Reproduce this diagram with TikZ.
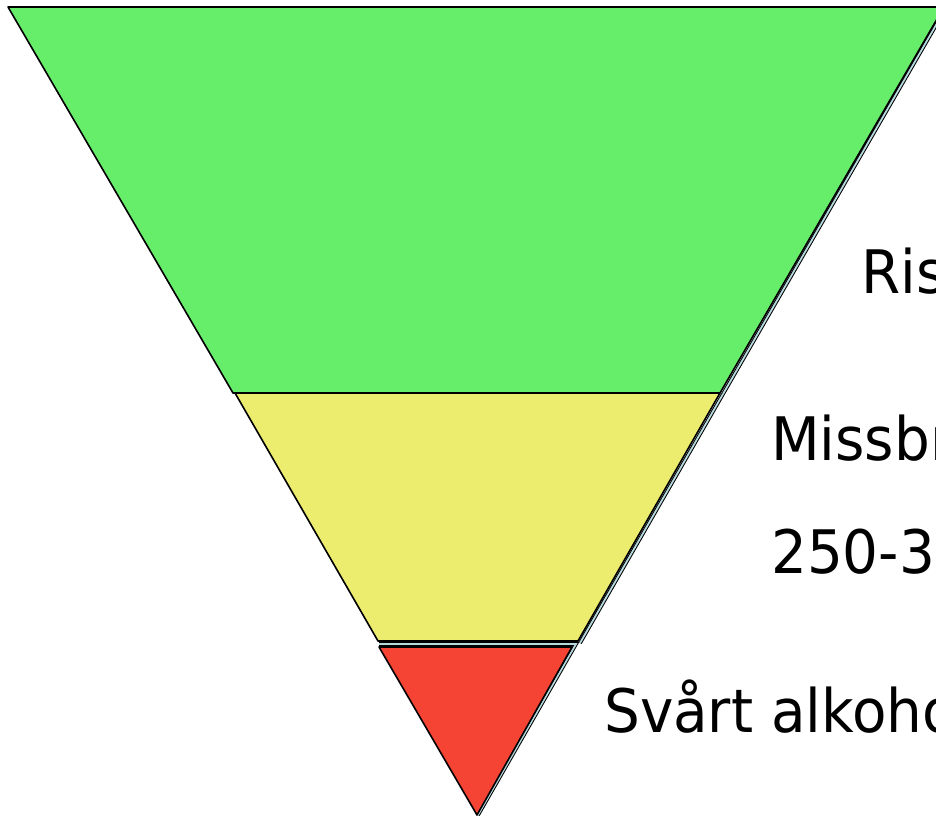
\documentclass[tikz,border=0pt]{standalone}
\usepackage{fontspec}
\setmainfont[FakeStretch=0.94]{DejaVu Sans}
\usepackage{xcolor}
\usetikzlibrary{positioning,calc}

\definecolor{riskgreen}{HTML}{66EE6A}
\definecolor{abuseyellow}{HTML}{ECEC6E}
\definecolor{heavyred}{HTML}{F64434}
\definecolor{rimblue}{HTML}{B4D8DC}

\begin{document}
\begin{tikzpicture}[x=1pt,y=-1pt,
    band/.style={draw=black,line width=1.6pt,line join=round},
    rim/.style={draw=black,line width=1pt,double=rimblue,double distance=1.8pt},
    level/.style={anchor=base west,inner sep=0pt,font=\fontsize{60}{60}\selectfont}]
    \useasboundingbox (0,0) rectangle (936,818);
    \clip (0,0) rectangle (936,818);

    % Pyramid corners
    \coordinate (topL) at (8,7);
    \coordinate (topR) at (944,7);
    \coordinate (midL) at (233,393);
    \coordinate (midR) at (720,393);
    \coordinate (lowL) at (378,641);
    \coordinate (lowR) at (578,641);
    \coordinate (redL) at (379,647);
    \coordinate (redR) at (572,647);
    \coordinate (apex) at (477,815);

    % Green band
    \draw[rim] (947,6) -- (723,394);
    \draw[band,fill=riskgreen] (topL) -- (topR) -- (midR) -- (midL) -- cycle;

    % Yellow band
    \draw[rim] (723,394) -- (580,643);
    \draw[band,fill=abuseyellow] (235,393) -- (midR) -- (lowR) -- (lowL) -- cycle;

    % Red band
    \draw[rim] (379,644) -- (576,644) -- (478,815);
    \draw[band,fill=heavyred] (redL) -- (redR) -- (apex) -- cycle;

    % Labels
    \node[level] (ris) at (861,293) {Ris};
    \node[level] (miss) at (771,460) {Missbr};
    \node[level] (amount) at (771,573) {250-30};
    \node[level] (svart) at (604,732) {Svårt alkoho};
\end{tikzpicture}
\end{document}
